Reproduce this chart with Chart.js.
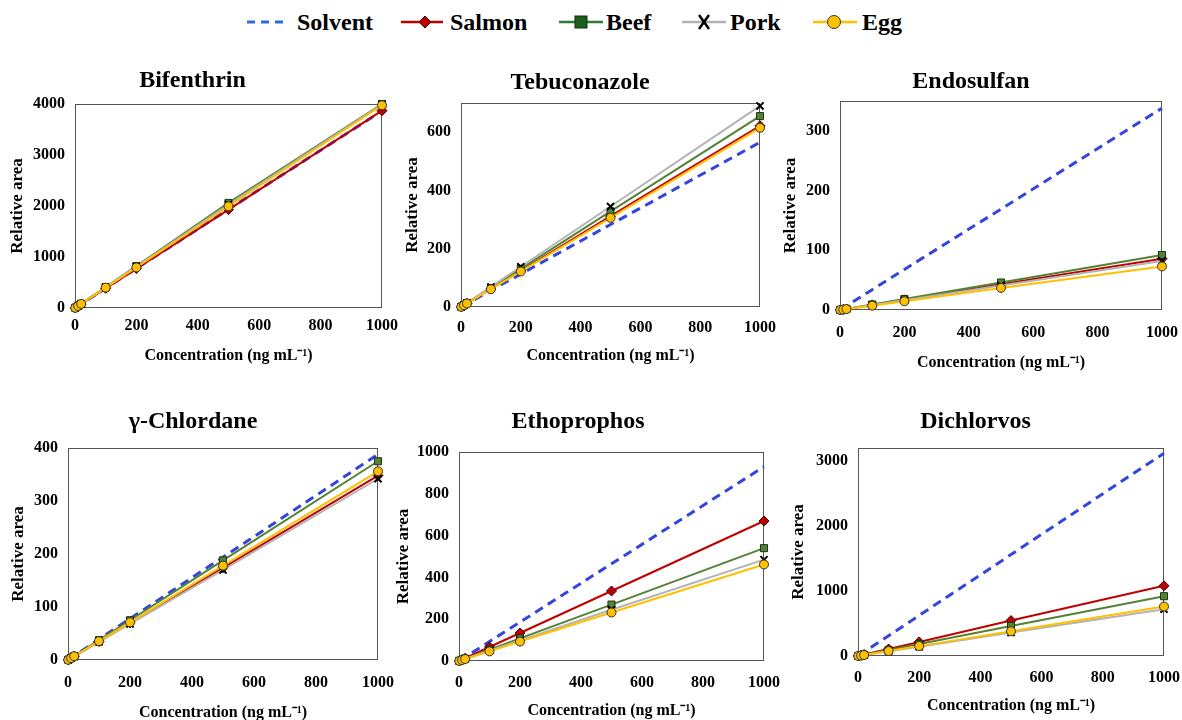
<!DOCTYPE html>
<html>
<head>
<meta charset="utf-8">
<script src="https://cdn.jsdelivr.net/npm/chart.js@4.4.0/dist/chart.umd.min.js"></script>
<style>
  html, body { margin: 0; padding: 0; background: #fff; width: 1182px; height: 720px; overflow: hidden; position: relative; }
  body { font-family: "Liberation Serif", "Times New Roman", serif; }
  .panel { position: absolute; }
  .leg-mark { position: absolute; top: 12px; }
  .leg-text { position: absolute; top: 8px; font-size: 24px; font-weight: bold; line-height: 28px; color: #000; }
</style>
</head>
<body>
<div id="legend">
  <svg class="leg-mark" style="left:246px" width="42" height="20"><line x1="1" y1="10" x2="41" y2="10" stroke="#2b6fd6" stroke-width="3" stroke-dasharray="8,6"/></svg>
  <span class="leg-text" style="left:297px">Solvent</span>
  <svg class="leg-mark" style="left:401px" width="42" height="20"><line x1="0" y1="10" x2="42" y2="10" stroke="#c00000" stroke-width="2.5"/><polygon points="24,4 30,10 24,16 18,10" fill="#c00000" stroke="#3a0000" stroke-width="1"/></svg>
  <span class="leg-text" style="left:450px">Salmon</span>
  <svg class="leg-mark" style="left:559px" width="44" height="20"><line x1="0" y1="10" x2="44" y2="10" stroke="#2f7a2f" stroke-width="2.5"/><rect x="16" y="4" width="12" height="12" fill="#1e5c1e" stroke="#0f2f0f" stroke-width="1"/></svg>
  <span class="leg-text" style="left:606px">Beef</span>
  <svg class="leg-mark" style="left:682px" width="44" height="20"><line x1="0" y1="10" x2="44" y2="10" stroke="#b3b3b3" stroke-width="2.5"/><line x1="17" y1="3" x2="27" y2="17" stroke="#000" stroke-width="2.5"/><line x1="27" y1="3" x2="17" y2="17" stroke="#000" stroke-width="2.5"/></svg>
  <span class="leg-text" style="left:730px">Pork</span>
  <svg class="leg-mark" style="left:813px" width="44" height="20"><line x1="0" y1="10" x2="44" y2="10" stroke="#ffc000" stroke-width="2.5"/><circle cx="21" cy="10" r="6.5" fill="#ffc000" stroke="#333" stroke-width="1"/></svg>
  <span class="leg-text" style="left:862px">Egg</span>
</div>
<script>
// concentration levels (ng mL-1)
const concentrations = [1, 10, 20, 100, 200, 500, 1000];
const compounds = ["Bifenthrin", "Tebuconazole", "Endosulfan", "γ-Chlordane", "Ethoprophos", "Dichlorvos"];
const yMax = [4000, 700, 350, 400, 1000, 3200];
const yTickValues = [
  [0, 1000, 2000, 3000, 4000],
  [0, 200, 400, 600],
  [0, 100, 200, 300],
  [0, 100, 200, 300, 400],
  [0, 200, 400, 600, 800, 1000],
  [0, 1000, 2000, 3000]
];
const xTickValues = [0, 200, 400, 600, 800, 1000];

// relative areas, one row per compound (same order as compounds)
const solvent = [
  [3.9, 39, 78, 388, 775, 1935, 3865],
  [0.6, 5.6, 11, 57, 113, 283, 565],
  [0.3, 3.4, 6.8, 34, 68, 169, 338],
  [0.4, 3.9, 7.8, 39, 78, 194, 388],
  [0.9, 9.3, 18.6, 93, 186, 465, 930],
  [3.1, 31, 62, 312, 624, 1560, 3120]
];
const salmon = [
  [3.9, 39, 77, 386, 772, 1930, 3870],
  [0.6, 6.2, 12.4, 62, 124, 312, 622],
  [0.1, 0.9, 1.7, 8.6, 17, 43, 86],
  [0.3, 3.5, 7, 35, 70, 174, 348],
  [0.7, 6.7, 13.4, 67, 134, 335, 670],
  [1.1, 11, 22, 108, 216, 545, 1080]
];
const beef = [
  [4.1, 41, 82, 410, 822, 2060, 4000],
  [0.7, 6.5, 13, 65, 131, 328, 655],
  [0.1, 0.9, 1.8, 9.2, 18.5, 46, 92],
  [0.4, 3.8, 7.5, 37.5, 75, 188, 375],
  [0.5, 5.4, 10.8, 54, 108, 270, 540],
  [0.9, 9.2, 18, 92, 184, 462, 920]
];
const pork = [
  [4, 40, 81, 405, 810, 2030, 3990],
  [0.7, 7, 14, 69, 138, 345, 690],
  [0.1, 0.8, 1.6, 8.2, 16.4, 41, 82],
  [0.3, 3.4, 6.8, 34, 68, 170, 342],
  [0.5, 4.9, 9.8, 49, 98, 245, 485],
  [0.7, 7.2, 14, 72, 144, 360, 720]
];
const egg = [
  [4, 40, 80, 400, 795, 1995, 3975],
  [0.6, 6.1, 12.2, 61, 122, 306, 615],
  [0.1, 0.7, 1.5, 7.3, 14.6, 37, 73],
  [0.4, 3.6, 7.1, 35.5, 71, 178, 356],
  [0.5, 4.6, 9.3, 46, 93, 232, 462],
  [0.8, 7.6, 15, 76, 152, 380, 760]
];

// panel geometry: plot box, y-axis width, x-axis height, tick padding, title gap
const panels = [
  { l: 75, t: 104, r: 382, b: 308, yw: 72, xh: 61, tp: 8, tg: 23 },
  { l: 461, t: 103, r: 762, b: 307, yw: 63, xh: 62, tp: 11, tg: 20 },
  { l: 840, t: 101, r: 1166, b: 310, yw: 64, xh: 66, tp: 13, tg: 19 },
  { l: 68, t: 448, r: 382, b: 660, yw: 64, xh: 66, tp: 13, tg: 26 },
  { l: 459, t: 452, r: 767, b: 661, yw: 70, xh: 63, tp: 12, tg: 30 },
  { l: 858, t: 448, r: 1167, b: 656, yw: 74, xh: 63, tp: 12, tg: 26 }
];

const FONT = "'Liberation Serif', 'Times New Roman', serif";
const TITLE_BLOCK = 50;
const RIGHT_PAD = 25;

const frame = {
  id: "frame",
  beforeDatasetsDraw(chart) {
    const a = chart.chartArea;
    const c = chart.ctx;
    c.save();
    c.strokeStyle = "#555";
    c.lineWidth = 1;
    c.strokeRect(Math.round(a.left) + 0.5, Math.round(a.top) + 0.5, Math.round(a.width) - 1, Math.round(a.height) - 1);
    c.restore();
  }
};

function makeDatasets(i) {
  return [
    { label: "Solvent", data: solvent[i], borderColor: "#3345dd", borderWidth: 3, borderDash: [9, 6],
      pointRadius: 0, order: 5 },
    { label: "Salmon", data: salmon[i], borderColor: "#c00000", borderWidth: 2, pointStyle: "rectRot",
      pointRadius: 5, pointBackgroundColor: "#c00000", pointBorderColor: "#3a0000", pointBorderWidth: 1, order: 4 },
    { label: "Beef", data: beef[i], borderColor: "#548235", borderWidth: 2, pointStyle: "rect",
      pointRadius: 5, pointBackgroundColor: "#548235", pointBorderColor: "#1a3310", pointBorderWidth: 1, order: 3 },
    { label: "Pork", data: pork[i], borderColor: "#b3b3b3", borderWidth: 2, pointStyle: "crossRot",
      pointRadius: 5, pointBorderColor: "#000", pointBorderWidth: 2, order: 2 },
    { label: "Egg", data: egg[i], borderColor: "#ffc000", borderWidth: 2, pointStyle: "circle",
      pointRadius: 4.5, pointBackgroundColor: "#ffc000", pointBorderColor: "#333", pointBorderWidth: 1, order: 1 }
  ].map(d => Object.assign(d, { clip: false }));
}

compounds.forEach((name, i) => {
  const p = panels[i];
  const left = p.l - p.yw;
  const top = p.t - TITLE_BLOCK;
  const width = p.r - left + RIGHT_PAD;
  const height = TITLE_BLOCK + (p.b - p.t) + p.xh;
  const padTop = 35.6 - p.tg;

  const div = document.createElement("div");
  div.className = "panel";
  div.style.left = left + "px";
  div.style.top = top + "px";
  const canvas = document.createElement("canvas");
  canvas.width = width;
  canvas.height = height;
  div.appendChild(canvas);
  document.body.appendChild(div);

  new Chart(canvas, {
    type: "line",
    data: { labels: concentrations, datasets: makeDatasets(i) },
    plugins: [frame],
    options: {
      responsive: false,
      animation: false,
      events: [],
      layout: { padding: { left: 0, right: RIGHT_PAD, top: 0, bottom: 0 } },
      plugins: {
        legend: { display: false },
        tooltip: { enabled: false },
        title: {
          display: true, text: name, color: "#000",
          font: { family: FONT, size: 24, weight: "bold" },
          padding: { top: padTop, bottom: 21.2 - padTop }
        }
      },
      scales: {
        x: {
          type: "linear", min: 0, max: 1000,
          grid: { display: false, drawTicks: false },
          border: { display: false },
          ticks: { padding: p.tp, color: "#000", maxRotation: 0,
            font: { family: FONT, size: 16, weight: "bold" }, callback: v => String(v) },
          afterBuildTicks: s => { s.ticks = xTickValues.map(v => ({ value: v })); },
          title: { display: true, text: "Concentration (ng mL⁻¹)", color: "#000",
            font: { family: FONT, size: 16, weight: "bold" }, padding: { top: 4, bottom: 4 } },
          afterFit: s => { s.height = p.xh; }
        },
        y: {
          min: 0, max: yMax[i],
          grid: { display: false, drawTicks: false },
          border: { display: false },
          ticks: { padding: 10, color: "#000",
            font: { family: FONT, size: 16, weight: "bold" }, callback: v => String(v) },
          afterBuildTicks: s => { s.ticks = yTickValues[i].map(v => ({ value: v })); },
          title: { display: true, text: "Relative area", color: "#000",
            font: { family: FONT, size: 17, weight: "bold" }, padding: { top: 4, bottom: 4 } },
          afterFit: s => { s.width = p.yw; }
        }
      }
    }
  });
});
</script>
</body>
</html>
